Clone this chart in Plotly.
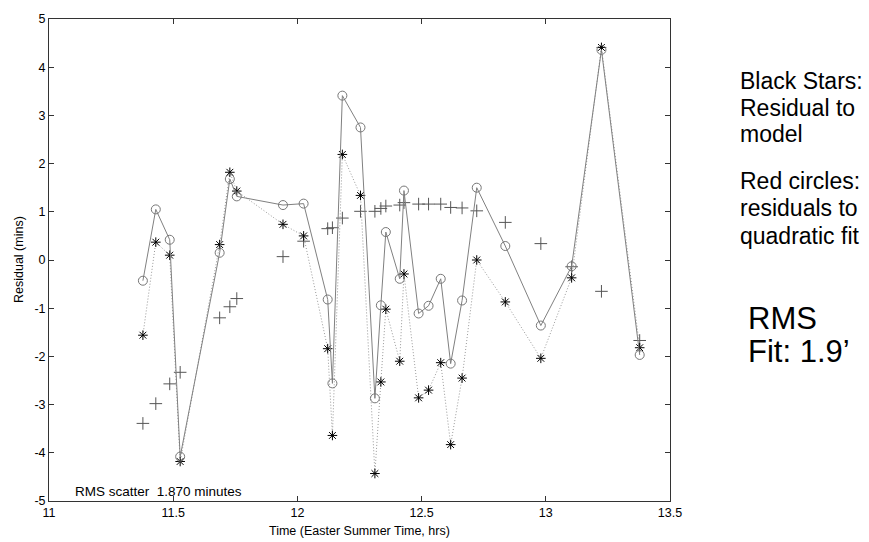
import plotly.graph_objects as go

# ---- data ----
time_hrs = [11.378, 11.430, 11.486, 11.528, 11.687, 11.728, 11.756, 11.942, 12.025,
            12.122, 12.141, 12.181, 12.254, 12.312, 12.336, 12.356, 12.412, 12.429,
            12.488, 12.528, 12.577, 12.617, 12.663, 12.722, 12.837, 12.980, 13.104,
            13.224, 13.378]
resid_quadratic = [-0.43, 1.05, 0.42, -4.08, 0.15, 1.68, 1.32, 1.14, 1.17, -0.82, -2.56,
                   3.41, 2.75, -2.87, -0.94, 0.58, -0.39, 1.44, -1.11, -0.95, -0.39,
                   -2.15, -0.84, 1.50, 0.29, -1.36, -0.13, 4.36, -1.97]
resid_model = [-1.56, 0.37, 0.10, -4.18, 0.32, 1.82, 1.43, 0.74, 0.50, -1.84, -3.64,
               2.19, 1.34, -4.43, -2.53, -1.02, -2.10, -0.29, -2.86, -2.70, -2.13,
               -3.83, -2.45, 0.00, -0.87, -2.04, -0.37, 4.41, -1.82]
resid_plus = [-3.39, -2.98, -2.57, -2.33, -1.20, -0.97, -0.80, 0.07, 0.39, 0.65, 0.67,
              0.87, 1.01, 1.01, 1.07, 1.12, 1.14, 1.19, 1.16, 1.16, 1.16, 1.09, 1.08,
              1.02, 0.78, 0.34, -0.14, -0.65, -1.67]

x_tickvals = [11, 11.5, 12, 12.5, 13, 13.5]
x_ticktext = ["11", "11.5", "12", "12.5", "13", "13.5"]
y_tickvals = [-5, -4, -3, -2, -1, 0, 1, 2, 3, 4, 5]
y_ticktext = ["-5", "-4", "-3", "-2", "-1", "0", "1", "2", "3", "4", "5"]

FONT = "Arial, Liberation Sans, sans-serif"
W, H = 869, 542
# plot box in page pixels: left 49, right 670, top 12, bottom 501
ML, MR, MT, MB = 49, W - 670, 12, H - 501
PW, PH = W - ML - MR, H - MT - MB


def pxx(p):
    """page pixel x -> paper coordinate"""
    return (p - ML) / PW


def pxy(p):
    """page pixel y -> paper coordinate"""
    return (H - MB - p) / PH


fig = go.Figure()

fig.add_trace(go.Scatter(
    x=time_hrs, y=resid_plus, mode="markers",
    marker=dict(symbol="cross-thin-open", size=9, color="#555",
                line=dict(width=1, color="#555")),
    hoverinfo="skip"))

fig.add_trace(go.Scatter(
    x=time_hrs, y=resid_model, mode="lines+markers",
    line=dict(color="#999", width=1, dash="1px,2px"),
    marker=dict(symbol="asterisk-open", size=8, color="black",
                line=dict(width=1, color="black")),
    hoverinfo="skip"))

fig.add_trace(go.Scatter(
    x=time_hrs, y=resid_quadratic, mode="lines+markers",
    line=dict(color="#808080", width=1),
    marker=dict(symbol="circle-open", size=9, color="#777",
                line=dict(width=1, color="#777")),
    hoverinfo="skip"))

axis_common = dict(showgrid=False, zeroline=False, showline=True, linecolor="#333",
                   linewidth=1, mirror="ticks", ticks="inside", ticklen=5,
                   tickcolor="#333", tickfont=dict(family=FONT, size=12.5, color="black"))

fig.update_xaxes(range=[11, 13.5], tickvals=x_tickvals, ticktext=x_ticktext, **axis_common)
fig.update_yaxes(range=[-5, 5], tickvals=y_tickvals, ticktext=y_ticktext, **axis_common)

annots = [
    dict(text="Time (Easter Summer Time, hrs)", x=0.5, y=pxy(531.5), xanchor="center",
         yanchor="middle", font=dict(size=12.5)),
    dict(text="Residual (mins)", x=pxx(19), y=pxy(256.5), xanchor="center",
         yanchor="middle", textangle=-90, font=dict(size=12.5)),
    dict(text="RMS scatter\u00a0 1.870 minutes", x=pxx(73), y=pxy(491.5), xanchor="left",
         yanchor="middle", font=dict(size=13.5)),
    dict(text="Black Stars:", x=pxx(738), y=pxy(75), xanchor="left", yanchor="middle",
         font=dict(size=23)),
    dict(text="Residual to", x=pxx(738), y=pxy(102), xanchor="left", yanchor="middle",
         font=dict(size=23)),
    dict(text="model", x=pxx(738), y=pxy(128.5), xanchor="left", yanchor="middle",
         font=dict(size=23)),
    dict(text="Red circles:", x=pxx(738), y=pxy(176), xanchor="left", yanchor="middle",
         font=dict(size=23)),
    dict(text="residuals to", x=pxx(738), y=pxy(204), xanchor="left", yanchor="middle",
         font=dict(size=23)),
    dict(text="quadratic fit", x=pxx(738), y=pxy(232), xanchor="left", yanchor="middle",
         font=dict(size=23)),
    dict(text="RMS", x=pxx(746), y=pxy(316), xanchor="left", yanchor="middle",
         font=dict(size=31)),
    dict(text="Fit: 1.9\u2019", x=pxx(746), y=pxy(349), xanchor="left", yanchor="middle",
         font=dict(size=31)),
]
for a in annots:
    a.update(xref="paper", yref="paper", showarrow=False)
    a["font"] = dict(family=FONT, color="black", **a["font"])
    fig.add_annotation(**a)

fig.update_layout(width=W, height=H, margin=dict(l=ML, r=MR, t=MT, b=MB, pad=0),
                  paper_bgcolor="white", plot_bgcolor="white", showlegend=False,
                  hovermode=False, font=dict(family=FONT, color="black"))

# remove the browser's default 8px page margin so the figure fills the window exactly
fig.write_html("out.html",
               config={"displayModeBar": False, "staticPlot": True},
               post_script="document.body.style.margin='0px';"
                           "document.body.style.overflow='hidden';")
